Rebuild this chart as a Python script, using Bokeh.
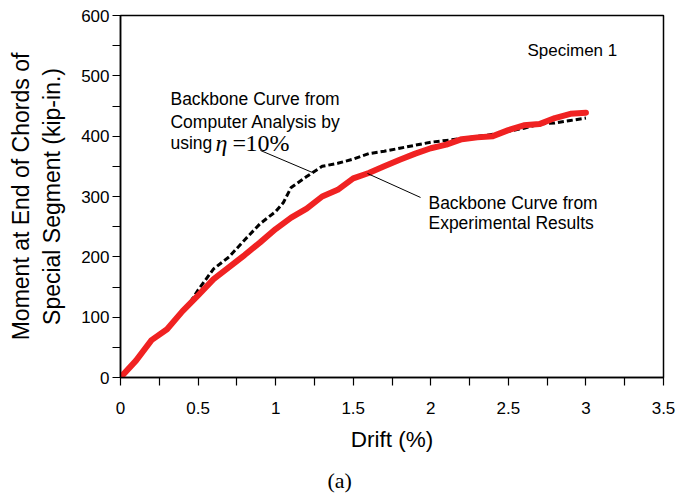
from bokeh.plotting import figure
from bokeh.models import Range1d, FixedTicker, Label, Title, LinearAxis
from bokeh.embed import file_html
from bokeh.resources import INLINE

# Experimental backbone curve (red solid)
drift_exp = [0.0, 0.1, 0.2, 0.3, 0.4, 0.5, 0.6, 0.7, 0.8, 0.9, 1.0, 1.1, 1.2, 1.3, 1.4,
             1.5, 1.6, 1.7, 1.8, 1.9, 2.0, 2.1, 2.2, 2.3, 2.4, 2.5, 2.6, 2.7, 2.8, 2.9, 3.0]
moment_exp = [0, 28, 62, 80, 110, 136, 163, 183, 203, 224, 246, 265, 280, 300, 311,
              330, 339, 350, 361, 371, 380, 386, 395, 398, 400, 410, 418, 420, 430, 437, 439]

# Computer analysis backbone curve (black dashed)
drift_ana = [0.45, 0.5, 0.6, 0.7, 0.8, 0.9, 1.0, 1.05, 1.1, 1.2, 1.3, 1.4, 1.5, 1.6,
             1.7, 1.8, 1.9, 2.0, 2.1, 2.2, 2.4, 2.6, 2.7, 2.8, 2.9, 3.0]
moment_ana = [125, 145, 180, 200, 228, 255, 275, 290, 315, 333, 350, 355, 362, 371,
              375, 380, 385, 390, 393, 396, 403, 413, 420, 422, 426, 430]

x_ticks = [0, 0.5, 1, 1.5, 2, 2.5, 3, 3.5]
x_tick_labels = ["0", "0.5", "1", "1.5", "2", "2.5", "3", "3.5"]
x_minor = [0.25, 0.75, 1.25, 1.75, 2.25, 2.75, 3.25]
y_ticks = [0, 100, 200, 300, 400, 500, 600]
y_tick_labels = ["0", "100", "200", "300", "400", "500", "600"]
y_minor = [50, 150, 250, 350, 450, 550]

SANS = "Liberation Sans"
SERIF = "Liberation Serif"


def key(v):
    return int(v) if float(v).is_integer() else v


p = figure(width=693, height=494, output_backend="svg", toolbar_location=None,
           x_range=Range1d(0, 3.5), y_range=Range1d(0, 600),
           min_border_left=120, min_border_right=30, min_border_top=15,
           min_border_bottom=117)
p.grid.visible = False
p.background_fill_color = "white"
p.border_fill_color = "white"
p.outline_line_color = "black"
p.outline_line_width = 1.5
p.outline_line_alpha = 1.0

p.xaxis.ticker = FixedTicker(ticks=x_ticks, minor_ticks=x_minor)
p.xaxis.major_label_overrides = {key(v): s for v, s in zip(x_ticks, x_tick_labels)}
p.yaxis.ticker = FixedTicker(ticks=y_ticks, minor_ticks=y_minor)
p.yaxis.major_label_overrides = {key(v): s for v, s in zip(y_ticks, y_tick_labels)}

for ax in (p.xaxis[0], p.yaxis[0]):
    ax.axis_line_color = "black"
    ax.axis_line_width = 1.5
    ax.major_tick_line_color = "black"
    ax.minor_tick_line_color = "black"
    ax.major_tick_line_width = 1.2
    ax.minor_tick_line_width = 1.2
    ax.major_tick_in = 0
    ax.major_tick_out = 8
    ax.minor_tick_in = 0
    ax.minor_tick_out = 8
    ax.major_label_text_font = SANS
    ax.major_label_text_font_size = "17px"
    ax.major_label_text_color = "black"
    ax.axis_label_text_font = SANS
    ax.axis_label_text_font_style = "normal"
    ax.axis_label_text_color = "black"

p.xaxis.axis_label = "Drift (%)"
p.xaxis.axis_label_text_font_size = "22.5px"
p.xaxis.major_label_standoff = 16
p.xaxis.axis_label_standoff = 10
p.yaxis.axis_label = "Moment at End of Chords of\nSpecial Segment (kip-in.)"
p.yaxis.axis_label_text_font_size = "23px"
p.yaxis.major_label_standoff = 3
p.yaxis.axis_label_standoff = 13

p.line(drift_ana, moment_ana, line_color="black", line_width=3, line_dash="6 3")
p.line(drift_exp, moment_exp, line_color="#f02222", line_width=6,
       line_join="round", line_cap="round")

# leader lines
p.segment(x0=[0.902, 1.592], y0=[376.3, 338.1], x1=[1.237, 1.934], y1=[339.8, 298.4],
          line_color="black", line_width=1)


def txt(x, y, s, font=SANS, size="17.5px", style="normal"):
    p.add_layout(Label(x=x, y=y, text=s, text_font=font, text_font_size=size,
                       text_font_style=style, text_color="black",
                       text_align="left", text_baseline="alphabetic"))


txt(0.322, 460.8, "Backbone Curve from")
txt(0.322, 424.3, "Computer Analysis by")
txt(0.322, 389.5, "using")
txt(0.613, 389.5, "\u03b7", font=SERIF, size="24px", style="italic")
txt(0.722, 389.5, "=", font=SERIF, size="24px")
txt(0.805, 389.5, "10%", font=SERIF, size="24px")
txt(1.985, 288.4, "Backbone Curve from")
txt(1.985, 255.3, "Experimental Results")
txt(2.623, 542.0, "Specimen 1", size="17px")

# invisible spacer between the x axis and the panel caption
spacer = LinearAxis(ticker=FixedTicker(ticks=[0]), axis_line_color=None,
                    major_tick_line_color=None, minor_tick_line_color=None,
                    major_tick_in=0, major_tick_out=11, minor_tick_in=0,
                    minor_tick_out=0, major_label_standoff=0,
                    major_label_text_color=None, major_label_text_font_size="1px")
p.add_layout(spacer, "below")

p.add_layout(Title(text="(a)", text_font=SERIF, text_font_size="22px",
                   text_font_style="normal", text_color="black",
                   align="left", offset=207, standoff=0), "below")

open("out.html", "w").write(file_html(p, INLINE))
